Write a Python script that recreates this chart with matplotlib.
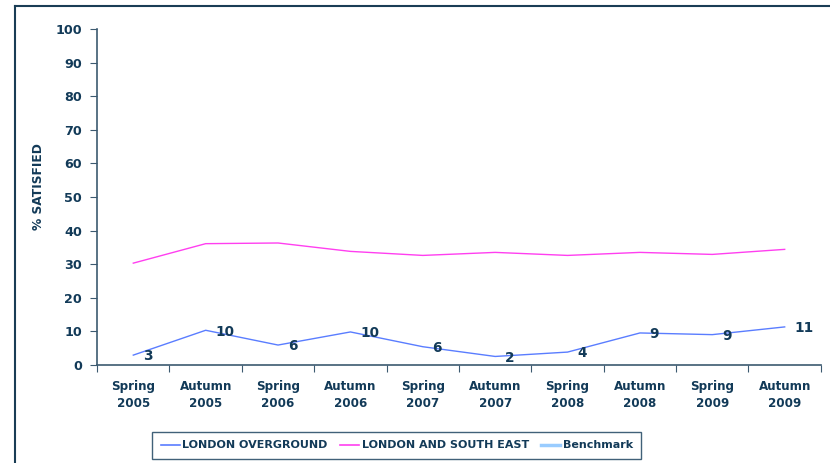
import matplotlib
matplotlib.use("Agg")
import matplotlib.pyplot as plt
from matplotlib.lines import Line2D

# survey waves
waves = ["Spring\n2005", "Autumn\n2005", "Spring\n2006", "Autumn\n2006", "Spring\n2007",
         "Autumn\n2007", "Spring\n2008", "Autumn\n2008", "Spring\n2009", "Autumn\n2009"]
overground = [2.9, 10.3, 5.9, 9.8, 5.4, 2.5, 3.8, 9.5, 9.0, 11.3]
overground_labels = ["3", "10", "6", "10", "6", "2", "4", "9", "9", "11"]
london_se = [30.3, 36.1, 36.3, 33.8, 32.6, 33.5, 32.6, 33.5, 32.9, 34.4]

NAVY = "#123a58"
BLUE = "#5a7dff"
PINK = "#ff3ff0"
BENCH = "#99ccff"

plt.rcParams["font.family"] = ["DejaVu Sans"]
plt.rcParams["font.weight"] = "bold"

fig = plt.figure(figsize=(8.3, 4.63), dpi=100)
ax = fig.add_axes([0.117, 0.212, 0.872, 0.725])

xs = list(range(len(waves)))
ax.plot(xs, overground, color=BLUE, lw=1.0)
ax.plot(xs, london_se, color=PINK, lw=1.0)
for x, y, t in zip(xs, overground, overground_labels):
    ax.annotate(t, (x, y), xytext=(7, -1), textcoords="offset points",
                ha="left", va="center", fontsize=9.8, fontweight="bold", color=NAVY)

ax.set_xlim(-0.5, len(waves) - 0.5)
ax.set_ylim(0, 100)
ax.set_yticks(range(0, 101, 10))
ax.set_xticks([i - 0.5 for i in range(len(waves) + 1)], minor=False)
ax.set_xticklabels([])
ax.set_xticks(xs, minor=True)
ax.set_xticklabels(waves, minor=True, fontsize=8.6, fontweight="bold", color=NAVY,
                   linespacing=1.35)
ax.tick_params(axis="x", which="minor", length=0, pad=11)
ax.tick_params(axis="x", which="major", length=5, color="#3c5a70", direction="out")
ax.tick_params(axis="y", length=5, color="#3c5a70", labelsize=9.2, labelcolor=NAVY, pad=6)
for lab in ax.get_yticklabels():
    lab.set_fontweight("bold")

for s in ("top", "right"):
    ax.spines[s].set_visible(False)
for s in ("left", "bottom"):
    ax.spines[s].set_color("#3c5a70")
    ax.spines[s].set_linewidth(1.2)

ax.set_ylabel("% SATISFIED", fontsize=8.8, fontweight="bold", color=NAVY, labelpad=14)
ax.yaxis.set_label_coords(-0.072, 0.53)

handles = [Line2D([], [], color=BLUE, lw=1.2), Line2D([], [], color=PINK, lw=1.2),
           Line2D([], [], color=BENCH, lw=2.5)]
leg = fig.legend(handles, ["LONDON OVERGROUND", "LONDON AND SOUTH EAST", "Benchmark"],
                 loc="center", bbox_to_anchor=(0.478, 0.038), ncol=3, frameon=True,
                 fancybox=False, fontsize=8.0, handlelength=1.7, columnspacing=1.1,
                 borderpad=0.75, borderaxespad=0, handletextpad=0.25)
leg.get_frame().set_edgecolor(NAVY)
leg.get_frame().set_linewidth(1.0)
for t in leg.get_texts():
    t.set_color(NAVY)
    t.set_fontweight("bold")

# outer chart frame (top and left edges visible)
fig.add_artist(Line2D([15 / 830, 1], [1 - 6 / 463, 1 - 6 / 463], color="#1a3d55", lw=1.5,
                      transform=fig.transFigure))
fig.add_artist(Line2D([15 / 830, 15 / 830], [0, 1 - 6 / 463], color="#1a3d55", lw=1.5,
                      transform=fig.transFigure))

fig.savefig("out.png", dpi=100)
